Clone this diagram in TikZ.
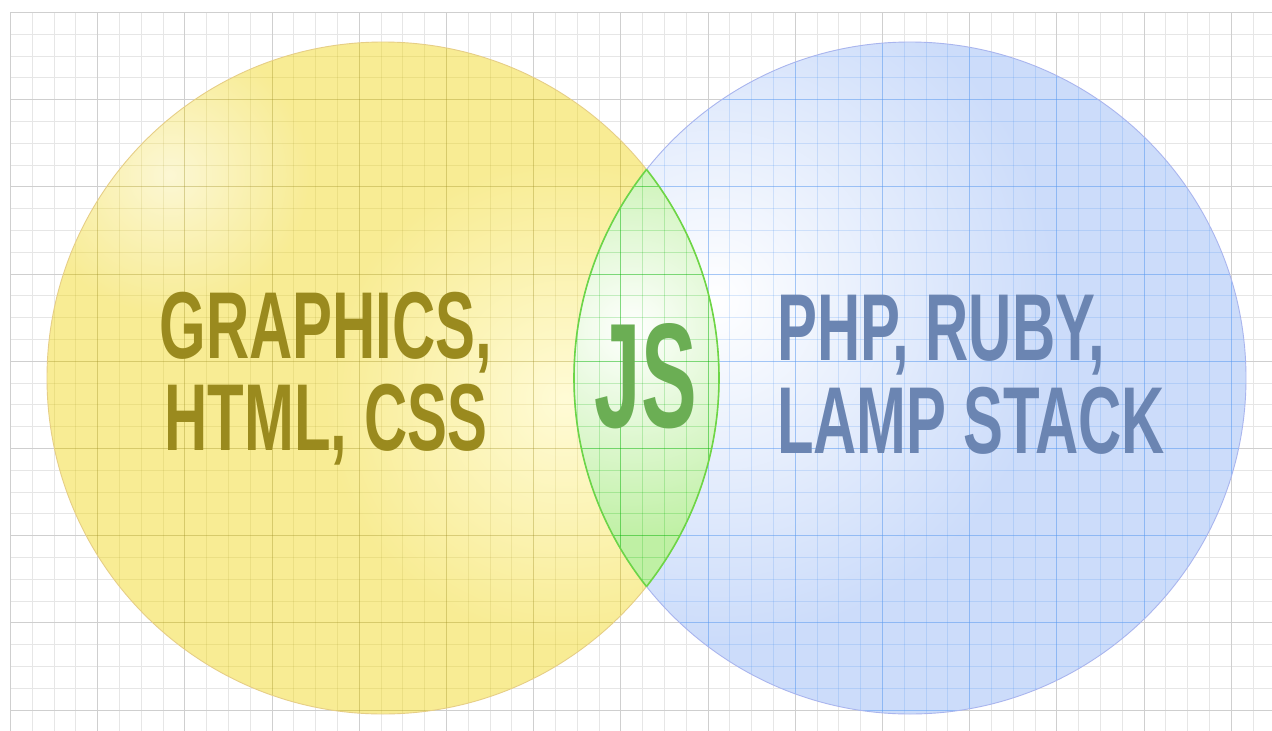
\documentclass[tikz,border=0pt]{standalone}
\usepackage{fontspec}
\newfontfamily\labelfont{Liberation Sans Bold}[FakeStretch=0.63]
\newfontfamily\jsfont{Liberation Sans Bold}[FakeStretch=0.56]
\usetikzlibrary{fadings}

\definecolor{gridminor}{HTML}{E6E6E6}
\definecolor{gridmajor}{HTML}{CFCFCF}
\definecolor{yellowbase}{HTML}{F8EC94}
\definecolor{yellowlight}{HTML}{FFFBD6}
\definecolor{yellowedge}{HTML}{E6CE86}
\definecolor{yellowtext}{HTML}{9A8A1E}
\definecolor{bluebase}{HTML}{CCDCFA}
\definecolor{bluegrid}{HTML}{5A9AF0}
\definecolor{blueedge}{HTML}{A9B5EE}
\definecolor{bluetext}{HTML}{6B85B2}
\definecolor{greenbase}{HTML}{BFF0A4}
\definecolor{greenedge}{HTML}{6CD646}
\definecolor{greentext}{HTML}{6BAE54}

\tikzfading[name=fuzzy spot, inner color=transparent!0, outer color=transparent!100]

% grid of 21.8px cells snapped to whole pixels, every fourth line darker
\newcommand\gridlines[2]{%
  \foreach \i in {0,...,57} \draw[#1] ({round(10+21.8*\i)+0.5},12) -- ({round(10+21.8*\i)+0.5},731);
  \foreach \j in {0,...,32} \draw[#1] (10,{round(12+21.8*\j)+0.5}) -- (1272,{round(12+21.8*\j)+0.5});
  \foreach \i in {0,4,...,56} \draw[#2] ({round(10+21.8*\i)+0.5},12) -- ({round(10+21.8*\i)+0.5},731);
  \foreach \j in {0,4,...,32} \draw[#2] (10,{round(12+21.8*\j)+0.5}) -- (1272,{round(12+21.8*\j)+0.5});
}

\tikzset{
  venn label/.style={inner sep=0pt, font=\labelfont\fontsize{95}{95}\selectfont},
  yellow label/.style={venn label, text=yellowtext, anchor=base},
  blue label/.style={venn label, text=bluetext, anchor=base west},
}

\begin{document}
\begin{tikzpicture}[x=1pt,y=-1pt]
\useasboundingbox (0,0) rectangle (1272,731);
\fill[white] (0,0) rectangle (1272,731);
\coordinate (yellow-centre) at (383,378);
\coordinate (blue-centre) at (910,378);
% Draw background grid
\gridlines{gridminor,line width=1pt}{gridmajor,line width=1.2pt}
% Draw yellow circle
\begin{scope}
\clip (yellow-centre) circle [radius=336];
\fill[yellowbase] (yellow-centre) circle [radius=336];
\shade[inner color=yellowlight, outer color=yellowbase] (565,400) circle [radius=240];
\fill[white, path fading=fuzzy spot, fill opacity=0.6] (170,175) circle [radius=140];
\gridlines{yellowtext,opacity=0.13,line width=1pt}{yellowtext,opacity=0.24,line width=1.2pt}
\end{scope}
% Draw blue circle
\begin{scope}
\clip (blue-centre) circle [radius=336];
\fill[bluebase] (blue-centre) circle [radius=336];
\shade[inner color=white, outer color=bluebase] (715,300) circle [radius=340];
\gridlines{bluegrid,opacity=0.22,line width=1pt}{bluegrid,opacity=0.4,line width=1.2pt}
\end{scope}
% Draw the lens where both circles meet
\begin{scope}
\clip (yellow-centre) circle [radius=336];
\clip (blue-centre) circle [radius=336];
\fill[greenbase] (yellow-centre) circle [radius=336];
\shade[inner color=white, outer color=greenbase] (632,330) circle [radius=210];
\gridlines{green!70!black,opacity=0.2,line width=1pt}{green!70!black,opacity=0.34,line width=1.2pt}
\end{scope}
% Draw outlines
\draw[yellowedge, line width=0.9pt] (yellow-centre) circle [radius=336];
\draw[blueedge, line width=0.9pt] (blue-centre) circle [radius=336];
\begin{scope}
\clip (yellow-centre) circle [radius=336];
\draw[greenedge, line width=1.6pt] (blue-centre) circle [radius=336];
\end{scope}
\begin{scope}
\clip (blue-centre) circle [radius=336];
\draw[greenedge, line width=1.6pt] (yellow-centre) circle [radius=336];
\end{scope}
% Labels
\node[yellow label] (graphics-line) at (326,358) {GRAPHICS,};
\node[yellow label] (html-line) at (326,450) {HTML, CSS};
\node[blue label] (php-line) at (777,360) {PHP, RUBY,};
\node[blue label] (lamp-line) at (777,453) {LAMP STACK};
\node[inner sep=0pt, anchor=base, text=greentext, font=\jsfont\fontsize{149}{149}\selectfont] (js-label) at (646,427) {JS};
\end{tikzpicture}
\end{document}
